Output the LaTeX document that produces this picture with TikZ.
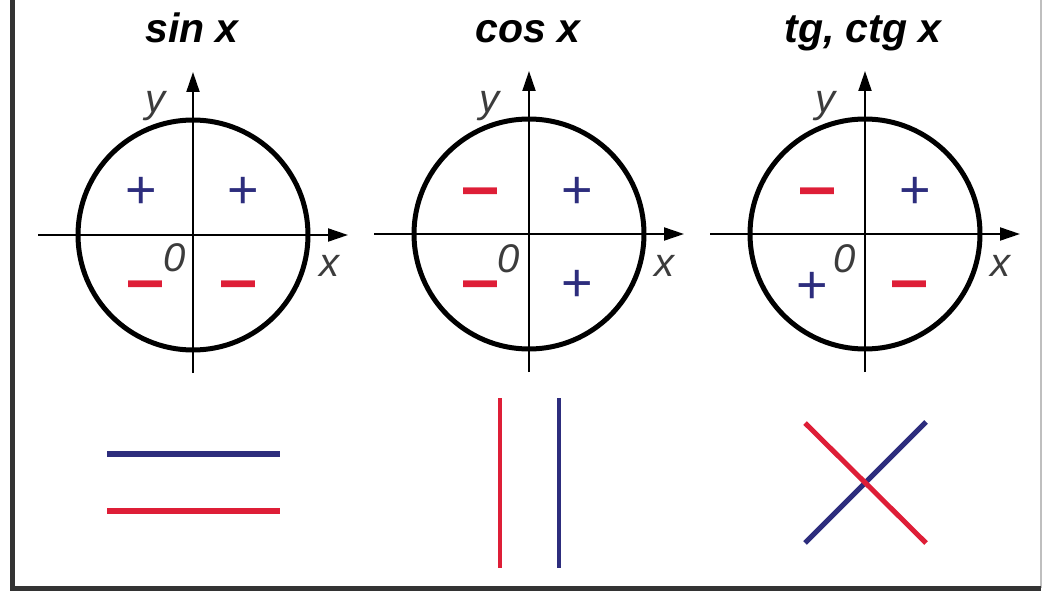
\documentclass[tikz,border=0pt]{standalone}
\usepackage{fontspec}
\setmainfont{Liberation Sans}
\usetikzlibrary{arrows.meta}
\definecolor{sgnred}{RGB}{222,30,55}
\definecolor{sgnblue}{RGB}{45,45,125}
\definecolor{lblgray}{RGB}{60,60,60}
\begin{document}
\begin{tikzpicture}[x=1pt,y=-1pt,
  axis/.style={line width=2pt,-{Triangle[length=20pt,width=13pt]}},
  ring/.style={line width=5pt},
  title/.style={font=\fontsize{41}{41}\selectfont\bfseries\itshape, anchor=base, inner sep=0pt},
  lbl/.style={font=\fontsize{40}{40}\selectfont\itshape, text=lblgray, inner sep=0pt},
  plussign/.style={text=sgnblue, font=\fontsize{54}{54}\selectfont, inner sep=0pt, yshift=-3pt},
  minussign/.style={text=sgnred, font=\fontsize{34}{34}\selectfont\bfseries, inner sep=0pt, yshift=-9pt},
  bar/.style={line width=5.5pt},
  frameline/.style={line width=5pt, black!80}]
\useasboundingbox (0,0) rectangle (1043,591);
% frame
\coordinate (ftl) at (12,-5);
\coordinate (fbl) at (12,588);
\coordinate (fbr) at (1041,588);
\coordinate (ftr) at (1041,0);
\draw[line width=2pt, black!25] (ftr) -- (fbr);
\draw[frameline] (ftl) -- (fbl) -- (fbr);
% titles
\node[title] (t1) at (192,43) {sin x};
\node[title] (t2) at (528,43) {cos x};
\node[title] (t3) at (863,43) {tg, ctg x};
% panel 1
\begin{scope}[shift={(193,235)}]
  \coordinate (w1) at (-155,0); \coordinate (e1) at (155,0);
  \coordinate (s1) at (0,138); \coordinate (n1) at (0,-163);
  \draw[ring] (0,0) circle[radius=115];
  \draw[axis] (w1) -- (e1);
  \draw[axis] (s1) -- (n1);
  \node[lbl] (y1) at (-38,-129) {y};
  \node[lbl] (x1) at (136,31) {x};
  \node[lbl] (o1) at (-18,23) {0};
  \node[plussign] (p1a) at (-52,-45) {+};
  \node[plussign] (p1b) at (50,-45) {+};
  \node[minussign] (m1a) at (-48,48) {\scalebox{1}[2]{—}};
  \node[minussign] (m1b) at (45,48) {\scalebox{1}[2]{—}};
\end{scope}
% panel 2
\begin{scope}[shift={(529,234)}]
  \coordinate (w2) at (-155,0); \coordinate (e2) at (155,0);
  \coordinate (s2) at (0,138); \coordinate (n2) at (0,-163);
  \draw[ring] (0,0) circle[radius=115];
  \draw[axis] (w2) -- (e2);
  \draw[axis] (s2) -- (n2);
  \node[lbl] (y2) at (-40,-128) {y};
  \node[lbl] (x2) at (135,32) {x};
  \node[lbl] (o2) at (-20,25) {0};
  \node[minussign] (m2a) at (-49,-44) {\scalebox{1}[2]{—}};
  \node[plussign] (p2a) at (48,-44) {+};
  \node[minussign] (m2b) at (-49,49) {\scalebox{1}[2]{—}};
  \node[plussign] (p2b) at (48,49) {+};
\end{scope}
% panel 3
\begin{scope}[shift={(865,234)}]
  \coordinate (w3) at (-155,0); \coordinate (e3) at (155,0);
  \coordinate (s3) at (0,138); \coordinate (n3) at (0,-163);
  \draw[ring] (0,0) circle[radius=115];
  \draw[axis] (w3) -- (e3);
  \draw[axis] (s3) -- (n3);
  \node[lbl] (y3) at (-40,-128) {y};
  \node[lbl] (x3) at (135,32) {x};
  \node[lbl] (o3) at (-20,25) {0};
  \node[minussign] (m3a) at (-48,-44) {\scalebox{1}[2]{—}};
  \node[plussign] (p3a) at (50,-44) {+};
  \node[plussign] (p3b) at (-53,51) {+};
  \node[minussign] (m3b) at (44,49) {\scalebox{1}[2]{—}};
\end{scope}
% bottom line pictures
\coordinate (h1a) at (107,454); \coordinate (h1b) at (280,454);
\coordinate (h2a) at (107,511); \coordinate (h2b) at (280,511);
\draw[bar, sgnblue] (h1a) -- (h1b);
\draw[bar, sgnred] (h2a) -- (h2b);
\coordinate (v1a) at (500,398); \coordinate (v1b) at (500,568);
\coordinate (v2a) at (559,398); \coordinate (v2b) at (559,568);
\draw[line width=4.5pt, sgnred] (v1a) -- (v1b);
\draw[line width=4.5pt, sgnblue] (v2a) -- (v2b);
\coordinate (d1a) at (805,543); \coordinate (d1b) at (926,422);
\coordinate (d2a) at (805,423); \coordinate (d2b) at (926,543);
\draw[line width=5pt, sgnblue] (d1a) -- (d1b);
\draw[line width=5pt, sgnred] (d2a) -- (d2b);
\end{tikzpicture}
\end{document}
